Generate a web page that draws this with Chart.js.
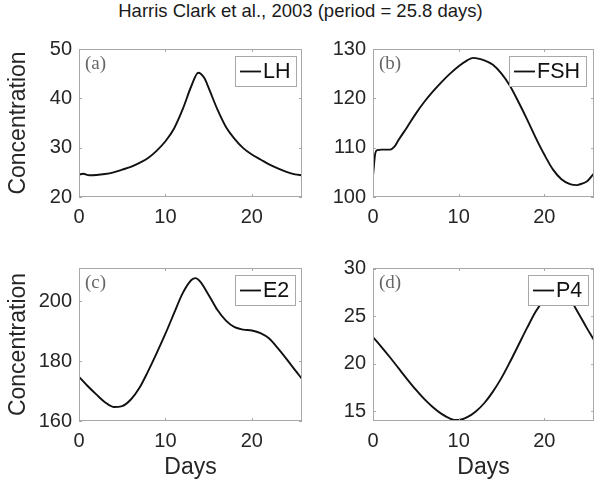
<!DOCTYPE html>
<html><head><meta charset="utf-8">
<script src="https://cdn.jsdelivr.net/npm/chart.js@4.4.0/dist/chart.umd.min.js"></script>
<style>
html,body{margin:0;padding:0;background:#fff;}
body{width:596px;height:483px;position:relative;overflow:hidden;font-family:"Liberation Sans",Arial,sans-serif;}
#title{position:absolute;left:0;width:601px;top:2px;text-align:center;font-size:18.5px;line-height:1;color:#1a1a1a;white-space:nowrap;}
canvas{position:absolute;}
</style></head><body>
<div id="title">Harris Clark et al., 2003 (period = 25.8 days)</div>
<canvas id="cA" width="310" height="215" style="left:0;top:30px"></canvas>
<canvas id="cB" width="286" height="215" style="left:310px;top:30px"></canvas>
<canvas id="cC" width="310" height="238" style="left:0;top:245px"></canvas>
<canvas id="cD" width="286" height="238" style="left:310px;top:245px"></canvas>
<script>
// ---- data ----
const seriesNames = ['LH', 'FSH', 'E2', 'P4'];
const panelLabels = ['(a)', '(b)', '(c)', '(d)'];

const lhDays = [0,0.5,1.2,2,3,4,5,6,7,8,9,10,11,12,13,13.8,14.5,15,16,17,18,19,20,21,22,23,24,25,25.8];
const lhValues = [24.55,24.7,24.4,24.45,24.65,25.0,25.55,26.1,26.9,27.9,29.4,31.3,33.9,37.8,42.5,45.2,44.1,42.1,37.8,34.2,31.8,29.9,28.6,27.6,26.6,25.8,25.1,24.6,24.4];

const fshDays = [0,0.27,0.5,1,2,2.5,3,4,5,6,7,8,9,10,11,11.7,12,13,14,15,16,17,18,19,20,21,22,23,23.8,24,25,25.8];
const fshValues = [104.3,108.9,109.5,109.6,109.6,110.2,111.6,114.2,116.9,119.3,121.4,123.3,125.0,126.5,127.7,128.2,128.15,127.7,126.8,125.0,122.5,119.2,115.7,112.0,108.6,105.6,103.6,102.6,102.4,102.5,103.2,104.8];

const e2Days = [0,1,2,3,4,5,6,7,8,9,10,11,12,13,13.5,14,15,16,17,18,19,20,21,22,23,24,25,25.8];
const e2Values = [174.8,171.7,168.9,166.3,164.7,165.0,167.2,171.1,176.7,182.8,189.2,196.1,202.8,207.2,207.8,206.7,202.2,197.2,193.6,191.4,190.6,190.3,189.4,187.6,184.4,180.8,177.0,174.1];

const p4Days = [0,1,2,3,4,5,6,7,8,9,9.5,10,11,12,13,14,15,16,17,18,19,20,21,22,23,24,25,25.8];
const p4Values = [22.8,21.75,20.65,19.5,18.35,17.25,16.25,15.4,14.7,14.2,14.05,14.05,14.35,14.95,15.85,17.05,18.5,20.2,22.0,23.8,25.5,26.8,27.6,27.7,26.8,25.3,23.7,22.5];

const xTicks = [0, 10, 20];
const lhTicks = [20, 30, 40, 50];
const fshTicks = [100, 110, 120, 130];
const e2Ticks = [160, 180, 200];
const p4Ticks = [15, 20, 25, 30];

const xTitle = 'Days';
const yTitle = 'Concentration';

// ---- drawing ----
const FONT = '"Liberation Sans", Arial, sans-serif';
const BOX = '#a8a8a8';

const deco = {
  id: 'deco',
  afterDatasetsDraw(chart, args, opts) {
    const {ctx, chartArea: a, scales: {x, y}} = chart;
    ctx.save();
    ctx.strokeStyle = BOX; ctx.lineWidth = 1;
    ctx.strokeRect(a.left + 0.5, a.top + 0.5, a.right - a.left - 1, a.bottom - a.top - 1);
    ctx.beginPath();
    x.ticks.forEach(t => {
      const px = Math.round(x.getPixelForValue(t.value)) + 0.5;
      ctx.moveTo(px, a.bottom); ctx.lineTo(px, a.bottom - 3);
      ctx.moveTo(px, a.top); ctx.lineTo(px, a.top + 3);
    });
    y.ticks.forEach(t => {
      const py = Math.round(y.getPixelForValue(t.value)) + 0.5;
      ctx.moveTo(a.left, py); ctx.lineTo(a.left + 3, py);
      ctx.moveTo(a.right, py); ctx.lineTo(a.right - 3, py);
    });
    ctx.stroke();
    // panel label
    ctx.fillStyle = '#666';
    ctx.font = '19px "Liberation Serif", "DejaVu Serif", serif';
    ctx.textBaseline = 'middle'; ctx.textAlign = 'left';
    ctx.fillText(opts.label, a.left + 6, a.top + 15);
    // legend box
    const ds = chart.data.datasets[0];
    ctx.font = '21.5px ' + FONT;
    const tw = ctx.measureText(ds.label).width;
    const w = Math.round(28 + tw + 6), h = 30;
    const bx = Math.round(a.right - opts.legendRight - w), by = Math.round(a.top + 7);
    ctx.fillStyle = '#fff';
    ctx.fillRect(bx, by, w, h);
    ctx.strokeStyle = BOX; ctx.lineWidth = 1;
    ctx.strokeRect(bx + 0.5, by + 0.5, w, h);
    ctx.strokeStyle = '#111'; ctx.lineWidth = 1.8;
    ctx.beginPath(); ctx.moveTo(bx + 5, by + h / 2 + 0.5); ctx.lineTo(bx + 26, by + h / 2 + 0.5); ctx.stroke();
    ctx.fillStyle = '#111';
    ctx.fillText(ds.label, bx + 28, by + h / 2 + 1);
    ctx.restore();
  }
};

function makeChart(id, name, days, values, yTicks, ymin, ymax, cfg) {
  new Chart(document.getElementById(id), {
    type: 'line',
    data: {
      datasets: [{
        label: name,
        data: days.map((d, i) => ({x: d, y: values[i]})),
        borderColor: '#111', borderWidth: 1.9, pointRadius: 0,
        cubicInterpolationMode: 'monotone', fill: false
      }]
    },
    options: {
      responsive: false, animation: false, events: [],
      layout: {padding: {top: cfg.padTop, right: cfg.padRight, left: 0, bottom: 0}},
      plugins: {legend: {display: false}, tooltip: {enabled: false},
        deco: {label: cfg.label, legendRight: cfg.legendRight}},
      scales: {
        x: {
          type: 'linear', min: 0, max: 25.8,
          afterBuildTicks: s => { s.ticks = xTicks.map(v => ({value: v})); },
          afterFit: s => { s.height = cfg.xh; },
          grid: {display: false, drawTicks: false}, border: {display: false},
          ticks: {font: {family: FONT, size: 20}, color: '#262626', padding: 8, maxRotation: 0},
          title: {display: cfg.showX, text: xTitle, font: {family: FONT, size: 23}, color: '#262626', padding: {top: 0, bottom: 2}}
        },
        y: {
          type: 'linear', min: ymin, max: ymax,
          afterBuildTicks: s => { s.ticks = yTicks.map(v => ({value: v})); },
          afterFit: s => { s.width = cfg.yw; },
          grid: {display: false, drawTicks: false}, border: {display: false},
          ticks: {font: {family: FONT, size: 20}, color: '#262626', padding: 7},
          title: {display: cfg.showY, text: yTitle, font: {family: FONT, size: 23}, color: '#262626', padding: {top: 5, bottom: 0}}
        }
      }
    },
    plugins: [deco]
  });
}

makeChart('cA', seriesNames[0], lhDays, lhValues, lhTicks, 20, 50,
  {label: panelLabels[0], padTop: 15, padRight: 8, xh: 48, yw: 79, showX: false, showY: true, legendRight: 6});
makeChart('cB', seriesNames[1], fshDays, fshValues, fshTicks, 100, 130,
  {label: panelLabels[1], padTop: 15, padRight: 2, xh: 48, yw: 63, showX: false, showY: false, legendRight: 8});
makeChart('cC', seriesNames[2], e2Days, e2Values, e2Ticks, 160, 211.2,
  {label: panelLabels[2], padTop: 23, padRight: 8, xh: 62, yw: 79, showX: true, showY: true, legendRight: 7});
makeChart('cD', seriesNames[3], p4Days, p4Values, p4Ticks, 13.95, 30.1,
  {label: panelLabels[3], padTop: 23, padRight: 2, xh: 62, yw: 63, showX: true, showY: false, legendRight: 6});
</script>
</body></html>
